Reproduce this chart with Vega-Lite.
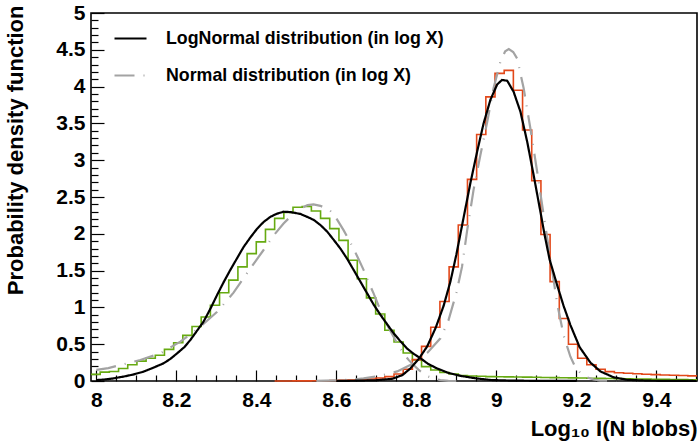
{
  "$schema": "https://vega.github.io/schema/vega-lite/v6.json",
  "width": 606,
  "height": 368,
  "autosize": {"type": "none"},
  "padding": {"left": 91, "top": 13, "right": 1, "bottom": 63},
  "background": "white",
  "datasets": {
    "hist": [
      {"sample": "A", "x": 7.9867, "y": 0.09}, {"sample": "A", "x": 8.0097, "y": 0.12}, {"sample": "A", "x": 8.0326, "y": 0.13}, {"sample": "A", "x": 8.0556, "y": 0.17},
      {"sample": "A", "x": 8.0785, "y": 0.22}, {"sample": "A", "x": 8.1015, "y": 0.27}, {"sample": "A", "x": 8.1244, "y": 0.31}, {"sample": "A", "x": 8.1474, "y": 0.35},
      {"sample": "A", "x": 8.1703, "y": 0.43}, {"sample": "A", "x": 8.1933, "y": 0.52}, {"sample": "A", "x": 8.2162, "y": 0.62}, {"sample": "A", "x": 8.2392, "y": 0.74},
      {"sample": "A", "x": 8.2621, "y": 0.87}, {"sample": "A", "x": 8.2851, "y": 1.03}, {"sample": "A", "x": 8.308, "y": 1.2}, {"sample": "A", "x": 8.331, "y": 1.37},
      {"sample": "A", "x": 8.3539, "y": 1.55}, {"sample": "A", "x": 8.3769, "y": 1.73}, {"sample": "A", "x": 8.3998, "y": 1.89}, {"sample": "A", "x": 8.4228, "y": 2.06},
      {"sample": "A", "x": 8.4457, "y": 2.21}, {"sample": "A", "x": 8.4687, "y": 2.29}, {"sample": "A", "x": 8.4916, "y": 2.36}, {"sample": "A", "x": 8.5146, "y": 2.37},
      {"sample": "A", "x": 8.5375, "y": 2.31}, {"sample": "A", "x": 8.5605, "y": 2.21}, {"sample": "A", "x": 8.5834, "y": 2.07}, {"sample": "A", "x": 8.6064, "y": 1.91},
      {"sample": "A", "x": 8.6293, "y": 1.64}, {"sample": "A", "x": 8.6523, "y": 1.39}, {"sample": "A", "x": 8.6752, "y": 1.13}, {"sample": "A", "x": 8.6982, "y": 0.91},
      {"sample": "A", "x": 8.7211, "y": 0.69}, {"sample": "A", "x": 8.7441, "y": 0.53}, {"sample": "A", "x": 8.767, "y": 0.38}, {"sample": "A", "x": 8.79, "y": 0.285},
      {"sample": "A", "x": 8.8129, "y": 0.195}, {"sample": "A", "x": 8.8359, "y": 0.15}, {"sample": "A", "x": 8.8588, "y": 0.115}, {"sample": "A", "x": 8.8818, "y": 0.095},
      {"sample": "A", "x": 8.9047, "y": 0.075}, {"sample": "A", "x": 8.9277, "y": 0.068}, {"sample": "A", "x": 8.9506, "y": 0.064}, {"sample": "A", "x": 8.9736, "y": 0.06},
      {"sample": "A", "x": 8.9965, "y": 0.058}, {"sample": "A", "x": 9.0195, "y": 0.056}, {"sample": "A", "x": 9.0424, "y": 0.054}, {"sample": "A", "x": 9.0654, "y": 0.052},
      {"sample": "A", "x": 9.0883, "y": 0.05}, {"sample": "A", "x": 9.1113, "y": 0.048}, {"sample": "A", "x": 9.1342, "y": 0.046}, {"sample": "A", "x": 9.1572, "y": 0.044},
      {"sample": "A", "x": 9.1801, "y": 0.042}, {"sample": "A", "x": 9.2031, "y": 0.04}, {"sample": "A", "x": 9.226, "y": 0.038}, {"sample": "A", "x": 9.249, "y": 0.036},
      {"sample": "A", "x": 9.2719, "y": 0.034}, {"sample": "A", "x": 9.2949, "y": 0.032}, {"sample": "A", "x": 9.3178, "y": 0.03}, {"sample": "A", "x": 9.3408, "y": 0.028},
      {"sample": "A", "x": 9.3637, "y": 0.026}, {"sample": "A", "x": 9.3867, "y": 0.024}, {"sample": "A", "x": 9.4096, "y": 0.022}, {"sample": "A", "x": 9.4326, "y": 0.02},
      {"sample": "A", "x": 9.4555, "y": 0.019}, {"sample": "A", "x": 9.4785, "y": 0.018}, {"sample": "A", "x": 9.5014, "y": 0.018},
      {"sample": "B", "x": 8.4457, "y": 0.001}, {"sample": "B", "x": 8.4687, "y": 0.001}, {"sample": "B", "x": 8.4916, "y": 0.002}, {"sample": "B", "x": 8.5146, "y": 0.002},
      {"sample": "B", "x": 8.5375, "y": 0.003}, {"sample": "B", "x": 8.5605, "y": 0.004}, {"sample": "B", "x": 8.5834, "y": 0.006}, {"sample": "B", "x": 8.6064, "y": 0.008},
      {"sample": "B", "x": 8.6293, "y": 0.012}, {"sample": "B", "x": 8.6523, "y": 0.018}, {"sample": "B", "x": 8.6752, "y": 0.027}, {"sample": "B", "x": 8.6982, "y": 0.04},
      {"sample": "B", "x": 8.7211, "y": 0.06}, {"sample": "B", "x": 8.7441, "y": 0.095}, {"sample": "B", "x": 8.767, "y": 0.16}, {"sample": "B", "x": 8.79, "y": 0.29},
      {"sample": "B", "x": 8.8129, "y": 0.47}, {"sample": "B", "x": 8.8359, "y": 0.73}, {"sample": "B", "x": 8.8588, "y": 1.08}, {"sample": "B", "x": 8.8818, "y": 1.55},
      {"sample": "B", "x": 8.9047, "y": 2.12}, {"sample": "B", "x": 8.9277, "y": 2.74}, {"sample": "B", "x": 8.9506, "y": 3.35}, {"sample": "B", "x": 8.9736, "y": 3.86},
      {"sample": "B", "x": 8.9965, "y": 4.18}, {"sample": "B", "x": 9.0195, "y": 4.22}, {"sample": "B", "x": 9.0424, "y": 3.95}, {"sample": "B", "x": 9.0654, "y": 3.41},
      {"sample": "B", "x": 9.0883, "y": 2.72}, {"sample": "B", "x": 9.1113, "y": 1.99}, {"sample": "B", "x": 9.1342, "y": 1.35}, {"sample": "B", "x": 9.1572, "y": 0.85},
      {"sample": "B", "x": 9.1801, "y": 0.5}, {"sample": "B", "x": 9.2031, "y": 0.31}, {"sample": "B", "x": 9.226, "y": 0.22}, {"sample": "B", "x": 9.249, "y": 0.16},
      {"sample": "B", "x": 9.2719, "y": 0.127}, {"sample": "B", "x": 9.2949, "y": 0.113}, {"sample": "B", "x": 9.3178, "y": 0.105}, {"sample": "B", "x": 9.3408, "y": 0.098},
      {"sample": "B", "x": 9.3637, "y": 0.092}, {"sample": "B", "x": 9.3867, "y": 0.087}, {"sample": "B", "x": 9.4096, "y": 0.082}, {"sample": "B", "x": 9.4326, "y": 0.078},
      {"sample": "B", "x": 9.4555, "y": 0.074}, {"sample": "B", "x": 9.4785, "y": 0.07}, {"sample": "B", "x": 9.5014, "y": 0.07}
    ],
    "curves": [
      {"fn": "Normal distribution (in log X)", "peak": "a", "x": 8.0, "y": 0.15},
      {"fn": "Normal distribution (in log X)", "peak": "a", "x": 8.03, "y": 0.175},
      {"fn": "Normal distribution (in log X)", "peak": "a", "x": 8.06, "y": 0.217},
      {"fn": "Normal distribution (in log X)", "peak": "a", "x": 8.11, "y": 0.285},
      {"fn": "Normal distribution (in log X)", "peak": "a", "x": 8.16, "y": 0.376},
      {"fn": "Normal distribution (in log X)", "peak": "a", "x": 8.21, "y": 0.534},
      {"fn": "Normal distribution (in log X)", "peak": "a", "x": 8.26, "y": 0.738},
      {"fn": "Normal distribution (in log X)", "peak": "a", "x": 8.302, "y": 0.94},
      {"fn": "Normal distribution (in log X)", "peak": "a", "x": 8.343, "y": 1.2},
      {"fn": "Normal distribution (in log X)", "peak": "a", "x": 8.385, "y": 1.53},
      {"fn": "Normal distribution (in log X)", "peak": "a", "x": 8.418, "y": 1.78},
      {"fn": "Normal distribution (in log X)", "peak": "a", "x": 8.445, "y": 1.99},
      {"fn": "Normal distribution (in log X)", "peak": "a", "x": 8.468, "y": 2.14},
      {"fn": "Normal distribution (in log X)", "peak": "a", "x": 8.49, "y": 2.26},
      {"fn": "Normal distribution (in log X)", "peak": "a", "x": 8.51, "y": 2.34},
      {"fn": "Normal distribution (in log X)", "peak": "a", "x": 8.528, "y": 2.39},
      {"fn": "Normal distribution (in log X)", "peak": "a", "x": 8.543, "y": 2.4},
      {"fn": "Normal distribution (in log X)", "peak": "a", "x": 8.56, "y": 2.38},
      {"fn": "Normal distribution (in log X)", "peak": "a", "x": 8.573, "y": 2.35},
      {"fn": "Normal distribution (in log X)", "peak": "a", "x": 8.585, "y": 2.31},
      {"fn": "Normal distribution (in log X)", "peak": "a", "x": 8.6, "y": 2.21},
      {"fn": "Normal distribution (in log X)", "peak": "a", "x": 8.618, "y": 2.05},
      {"fn": "Normal distribution (in log X)", "peak": "a", "x": 8.63, "y": 1.93},
      {"fn": "Normal distribution (in log X)", "peak": "a", "x": 8.643, "y": 1.8},
      {"fn": "Normal distribution (in log X)", "peak": "a", "x": 8.655, "y": 1.66},
      {"fn": "Normal distribution (in log X)", "peak": "a", "x": 8.668, "y": 1.51},
      {"fn": "Normal distribution (in log X)", "peak": "a", "x": 8.68, "y": 1.35},
      {"fn": "Normal distribution (in log X)", "peak": "a", "x": 8.693, "y": 1.19},
      {"fn": "Normal distribution (in log X)", "peak": "a", "x": 8.705, "y": 1.03},
      {"fn": "Normal distribution (in log X)", "peak": "a", "x": 8.718, "y": 0.87},
      {"fn": "Normal distribution (in log X)", "peak": "a", "x": 8.73, "y": 0.73},
      {"fn": "Normal distribution (in log X)", "peak": "a", "x": 8.743, "y": 0.6},
      {"fn": "Normal distribution (in log X)", "peak": "a", "x": 8.755, "y": 0.48},
      {"fn": "Normal distribution (in log X)", "peak": "a", "x": 8.768, "y": 0.376},
      {"fn": "Normal distribution (in log X)", "peak": "a", "x": 8.78, "y": 0.29},
      {"fn": "Normal distribution (in log X)", "peak": "a", "x": 8.793, "y": 0.217},
      {"fn": "Normal distribution (in log X)", "peak": "a", "x": 8.805, "y": 0.155},
      {"fn": "Normal distribution (in log X)", "peak": "a", "x": 8.818, "y": 0.1},
      {"fn": "Normal distribution (in log X)", "peak": "a", "x": 8.83, "y": 0.06},
      {"fn": "Normal distribution (in log X)", "peak": "a", "x": 8.843, "y": 0.035},
      {"fn": "Normal distribution (in log X)", "peak": "a", "x": 8.86, "y": 0.012},
      {"fn": "Normal distribution (in log X)", "peak": "a", "x": 8.88, "y": 0.002},
      {"fn": "Normal distribution (in log X)", "peak": "a", "x": 8.9, "y": 0},
      {"fn": "Normal distribution (in log X)", "peak": "b", "x": 8.55, "y": 0.002},
      {"fn": "Normal distribution (in log X)", "peak": "b", "x": 8.6, "y": 0.008},
      {"fn": "Normal distribution (in log X)", "peak": "b", "x": 8.64, "y": 0.02},
      {"fn": "Normal distribution (in log X)", "peak": "b", "x": 8.668, "y": 0.035},
      {"fn": "Normal distribution (in log X)", "peak": "b", "x": 8.71, "y": 0.07},
      {"fn": "Normal distribution (in log X)", "peak": "b", "x": 8.752, "y": 0.13},
      {"fn": "Normal distribution (in log X)", "peak": "b", "x": 8.793, "y": 0.24},
      {"fn": "Normal distribution (in log X)", "peak": "b", "x": 8.827, "y": 0.38},
      {"fn": "Normal distribution (in log X)", "peak": "b", "x": 8.86, "y": 0.58},
      {"fn": "Normal distribution (in log X)", "peak": "b", "x": 8.88, "y": 0.82},
      {"fn": "Normal distribution (in log X)", "peak": "b", "x": 8.9, "y": 1.2},
      {"fn": "Normal distribution (in log X)", "peak": "b", "x": 8.914, "y": 1.55},
      {"fn": "Normal distribution (in log X)", "peak": "b", "x": 8.927, "y": 2.05},
      {"fn": "Normal distribution (in log X)", "peak": "b", "x": 8.943, "y": 2.6},
      {"fn": "Normal distribution (in log X)", "peak": "b", "x": 8.96, "y": 3.07},
      {"fn": "Normal distribution (in log X)", "peak": "b", "x": 8.977, "y": 3.52},
      {"fn": "Normal distribution (in log X)", "peak": "b", "x": 8.993, "y": 3.98},
      {"fn": "Normal distribution (in log X)", "peak": "b", "x": 9.01, "y": 4.34},
      {"fn": "Normal distribution (in log X)", "peak": "b", "x": 9.022, "y": 4.48},
      {"fn": "Normal distribution (in log X)", "peak": "b", "x": 9.031, "y": 4.51},
      {"fn": "Normal distribution (in log X)", "peak": "b", "x": 9.042, "y": 4.47},
      {"fn": "Normal distribution (in log X)", "peak": "b", "x": 9.052, "y": 4.38},
      {"fn": "Normal distribution (in log X)", "peak": "b", "x": 9.068, "y": 3.98},
      {"fn": "Normal distribution (in log X)", "peak": "b", "x": 9.085, "y": 3.43},
      {"fn": "Normal distribution (in log X)", "peak": "b", "x": 9.102, "y": 2.84},
      {"fn": "Normal distribution (in log X)", "peak": "b", "x": 9.118, "y": 2.26},
      {"fn": "Normal distribution (in log X)", "peak": "b", "x": 9.135, "y": 1.66},
      {"fn": "Normal distribution (in log X)", "peak": "b", "x": 9.152, "y": 1.05},
      {"fn": "Normal distribution (in log X)", "peak": "b", "x": 9.168, "y": 0.62},
      {"fn": "Normal distribution (in log X)", "peak": "b", "x": 9.185, "y": 0.33},
      {"fn": "Normal distribution (in log X)", "peak": "b", "x": 9.197, "y": 0.19},
      {"fn": "Normal distribution (in log X)", "peak": "b", "x": 9.21, "y": 0.11},
      {"fn": "Normal distribution (in log X)", "peak": "b", "x": 9.227, "y": 0.05},
      {"fn": "Normal distribution (in log X)", "peak": "b", "x": 9.243, "y": 0.02},
      {"fn": "Normal distribution (in log X)", "peak": "b", "x": 9.26, "y": 0.006},
      {"fn": "Normal distribution (in log X)", "peak": "b", "x": 9.3, "y": 0.001},
      {"fn": "LogNormal distribution (in log X)", "peak": "a", "x": 8.0, "y": 0.012},
      {"fn": "LogNormal distribution (in log X)", "peak": "a", "x": 8.02, "y": 0.02},
      {"fn": "LogNormal distribution (in log X)", "peak": "a", "x": 8.04, "y": 0.033},
      {"fn": "LogNormal distribution (in log X)", "peak": "a", "x": 8.068, "y": 0.06},
      {"fn": "LogNormal distribution (in log X)", "peak": "a", "x": 8.09, "y": 0.085},
      {"fn": "LogNormal distribution (in log X)", "peak": "a", "x": 8.118, "y": 0.127},
      {"fn": "LogNormal distribution (in log X)", "peak": "a", "x": 8.14, "y": 0.175},
      {"fn": "LogNormal distribution (in log X)", "peak": "a", "x": 8.168, "y": 0.24},
      {"fn": "LogNormal distribution (in log X)", "peak": "a", "x": 8.185, "y": 0.3},
      {"fn": "LogNormal distribution (in log X)", "peak": "a", "x": 8.202, "y": 0.376},
      {"fn": "LogNormal distribution (in log X)", "peak": "a", "x": 8.22, "y": 0.46},
      {"fn": "LogNormal distribution (in log X)", "peak": "a", "x": 8.235, "y": 0.557},
      {"fn": "LogNormal distribution (in log X)", "peak": "a", "x": 8.25, "y": 0.67},
      {"fn": "LogNormal distribution (in log X)", "peak": "a", "x": 8.268, "y": 0.806},
      {"fn": "LogNormal distribution (in log X)", "peak": "a", "x": 8.285, "y": 0.98},
      {"fn": "LogNormal distribution (in log X)", "peak": "a", "x": 8.302, "y": 1.17},
      {"fn": "LogNormal distribution (in log X)", "peak": "a", "x": 8.318, "y": 1.34},
      {"fn": "LogNormal distribution (in log X)", "peak": "a", "x": 8.335, "y": 1.51},
      {"fn": "LogNormal distribution (in log X)", "peak": "a", "x": 8.352, "y": 1.67},
      {"fn": "LogNormal distribution (in log X)", "peak": "a", "x": 8.368, "y": 1.82},
      {"fn": "LogNormal distribution (in log X)", "peak": "a", "x": 8.385, "y": 1.95},
      {"fn": "LogNormal distribution (in log X)", "peak": "a", "x": 8.402, "y": 2.07},
      {"fn": "LogNormal distribution (in log X)", "peak": "a", "x": 8.418, "y": 2.16},
      {"fn": "LogNormal distribution (in log X)", "peak": "a", "x": 8.435, "y": 2.23},
      {"fn": "LogNormal distribution (in log X)", "peak": "a", "x": 8.45, "y": 2.27},
      {"fn": "LogNormal distribution (in log X)", "peak": "a", "x": 8.468, "y": 2.3},
      {"fn": "LogNormal distribution (in log X)", "peak": "a", "x": 8.485, "y": 2.295},
      {"fn": "LogNormal distribution (in log X)", "peak": "a", "x": 8.51, "y": 2.27},
      {"fn": "LogNormal distribution (in log X)", "peak": "a", "x": 8.527, "y": 2.23},
      {"fn": "LogNormal distribution (in log X)", "peak": "a", "x": 8.543, "y": 2.19},
      {"fn": "LogNormal distribution (in log X)", "peak": "a", "x": 8.56, "y": 2.12},
      {"fn": "LogNormal distribution (in log X)", "peak": "a", "x": 8.577, "y": 2.03},
      {"fn": "LogNormal distribution (in log X)", "peak": "a", "x": 8.593, "y": 1.92},
      {"fn": "LogNormal distribution (in log X)", "peak": "a", "x": 8.61, "y": 1.8},
      {"fn": "LogNormal distribution (in log X)", "peak": "a", "x": 8.627, "y": 1.66},
      {"fn": "LogNormal distribution (in log X)", "peak": "a", "x": 8.643, "y": 1.51},
      {"fn": "LogNormal distribution (in log X)", "peak": "a", "x": 8.66, "y": 1.35},
      {"fn": "LogNormal distribution (in log X)", "peak": "a", "x": 8.677, "y": 1.19},
      {"fn": "LogNormal distribution (in log X)", "peak": "a", "x": 8.693, "y": 1.04},
      {"fn": "LogNormal distribution (in log X)", "peak": "a", "x": 8.71, "y": 0.9},
      {"fn": "LogNormal distribution (in log X)", "peak": "a", "x": 8.727, "y": 0.77},
      {"fn": "LogNormal distribution (in log X)", "peak": "a", "x": 8.743, "y": 0.65},
      {"fn": "LogNormal distribution (in log X)", "peak": "a", "x": 8.76, "y": 0.54},
      {"fn": "LogNormal distribution (in log X)", "peak": "a", "x": 8.777, "y": 0.44},
      {"fn": "LogNormal distribution (in log X)", "peak": "a", "x": 8.793, "y": 0.37},
      {"fn": "LogNormal distribution (in log X)", "peak": "a", "x": 8.81, "y": 0.31},
      {"fn": "LogNormal distribution (in log X)", "peak": "a", "x": 8.83, "y": 0.23},
      {"fn": "LogNormal distribution (in log X)", "peak": "a", "x": 8.852, "y": 0.17},
      {"fn": "LogNormal distribution (in log X)", "peak": "a", "x": 8.88, "y": 0.11},
      {"fn": "LogNormal distribution (in log X)", "peak": "a", "x": 8.91, "y": 0.07},
      {"fn": "LogNormal distribution (in log X)", "peak": "a", "x": 8.95, "y": 0.035},
      {"fn": "LogNormal distribution (in log X)", "peak": "a", "x": 8.985, "y": 0.014},
      {"fn": "LogNormal distribution (in log X)", "peak": "a", "x": 9.03, "y": 0.006},
      {"fn": "LogNormal distribution (in log X)", "peak": "a", "x": 9.1, "y": 0.002},
      {"fn": "LogNormal distribution (in log X)", "peak": "a", "x": 9.2, "y": 0.0005},
      {"fn": "LogNormal distribution (in log X)", "peak": "b", "x": 8.6, "y": 0.001},
      {"fn": "LogNormal distribution (in log X)", "peak": "b", "x": 8.65, "y": 0.004},
      {"fn": "LogNormal distribution (in log X)", "peak": "b", "x": 8.7, "y": 0.01},
      {"fn": "LogNormal distribution (in log X)", "peak": "b", "x": 8.74, "y": 0.03},
      {"fn": "LogNormal distribution (in log X)", "peak": "b", "x": 8.765, "y": 0.08},
      {"fn": "LogNormal distribution (in log X)", "peak": "b", "x": 8.785, "y": 0.17},
      {"fn": "LogNormal distribution (in log X)", "peak": "b", "x": 8.806, "y": 0.3},
      {"fn": "LogNormal distribution (in log X)", "peak": "b", "x": 8.827, "y": 0.47},
      {"fn": "LogNormal distribution (in log X)", "peak": "b", "x": 8.848, "y": 0.72},
      {"fn": "LogNormal distribution (in log X)", "peak": "b", "x": 8.868, "y": 1.02},
      {"fn": "LogNormal distribution (in log X)", "peak": "b", "x": 8.885, "y": 1.35},
      {"fn": "LogNormal distribution (in log X)", "peak": "b", "x": 8.9, "y": 1.72},
      {"fn": "LogNormal distribution (in log X)", "peak": "b", "x": 8.918, "y": 2.22},
      {"fn": "LogNormal distribution (in log X)", "peak": "b", "x": 8.935, "y": 2.69},
      {"fn": "LogNormal distribution (in log X)", "peak": "b", "x": 8.952, "y": 3.12},
      {"fn": "LogNormal distribution (in log X)", "peak": "b", "x": 8.968, "y": 3.5},
      {"fn": "LogNormal distribution (in log X)", "peak": "b", "x": 8.985, "y": 3.82},
      {"fn": "LogNormal distribution (in log X)", "peak": "b", "x": 9.002, "y": 4.03},
      {"fn": "LogNormal distribution (in log X)", "peak": "b", "x": 9.014, "y": 4.09},
      {"fn": "LogNormal distribution (in log X)", "peak": "b", "x": 9.027, "y": 4.08},
      {"fn": "LogNormal distribution (in log X)", "peak": "b", "x": 9.043, "y": 3.93},
      {"fn": "LogNormal distribution (in log X)", "peak": "b", "x": 9.06, "y": 3.66},
      {"fn": "LogNormal distribution (in log X)", "peak": "b", "x": 9.077, "y": 3.25},
      {"fn": "LogNormal distribution (in log X)", "peak": "b", "x": 9.093, "y": 2.8},
      {"fn": "LogNormal distribution (in log X)", "peak": "b", "x": 9.11, "y": 2.3},
      {"fn": "LogNormal distribution (in log X)", "peak": "b", "x": 9.12, "y": 2.0},
      {"fn": "LogNormal distribution (in log X)", "peak": "b", "x": 9.133, "y": 1.65},
      {"fn": "LogNormal distribution (in log X)", "peak": "b", "x": 9.152, "y": 1.3},
      {"fn": "LogNormal distribution (in log X)", "peak": "b", "x": 9.168, "y": 1.02},
      {"fn": "LogNormal distribution (in log X)", "peak": "b", "x": 9.185, "y": 0.76},
      {"fn": "LogNormal distribution (in log X)", "peak": "b", "x": 9.208, "y": 0.46},
      {"fn": "LogNormal distribution (in log X)", "peak": "b", "x": 9.235, "y": 0.25},
      {"fn": "LogNormal distribution (in log X)", "peak": "b", "x": 9.26, "y": 0.13},
      {"fn": "LogNormal distribution (in log X)", "peak": "b", "x": 9.293, "y": 0.05},
      {"fn": "LogNormal distribution (in log X)", "peak": "b", "x": 9.327, "y": 0.016},
      {"fn": "LogNormal distribution (in log X)", "peak": "b", "x": 9.38, "y": 0.004},
      {"fn": "LogNormal distribution (in log X)", "peak": "b", "x": 9.45, "y": 0.001},
      {"fn": "LogNormal distribution (in log X)", "peak": "b", "x": 9.5, "y": 0.0002}
    ]
  },
  "layer": [
    {
      "data": {"name": "hist"},
      "transform": [{"filter": "datum.sample === 'A'"}],
      "mark": {"type": "line", "interpolate": "step-after", "color": "#66aa11", "strokeWidth": 1.6},
      "encoding": {
        "x": {"field": "x", "type": "quantitative",
          "scale": {"domain": [7.9867, 9.5014], "nice": false, "zero": false},
          "axis": {"orient": "bottom", "values": [8, 8.2, 8.4, 8.6, 8.8, 9, 9.2, 9.4], "format": "~g", "ticks": false, "domain": false,
            "labelPadding": 8, "labelFlush": false,
            "title": "Log₁₀ I(N blobs)", "titleAnchor": "end", "titleAlign": "right", "titleX": 606, "titleY": 54, "titleBaseline": "alphabetic"}},
        "y": {"field": "y", "type": "quantitative",
          "scale": {"domain": [0, 5], "nice": false, "zero": true},
          "axis": {"orient": "left", "values": [0, 0.5, 1, 1.5, 2, 2.5, 3, 3.5, 4, 4.5, 5], "format": "~g", "ticks": false, "domain": false,
            "labelPadding": 6, "labelFlush": false,
            "title": "Probability density function", "titleAnchor": "end", "titleAlign": "right", "titleAngle": 270, "titleX": -76, "titleY": -8, "titleBaseline": "middle"}}
      }
    },
    {
      "data": {"name": "hist"},
      "transform": [{"filter": "datum.sample === 'B'"}],
      "mark": {"type": "line", "interpolate": "step-after", "color": "#e2481a", "strokeWidth": 1.6},
      "encoding": {
        "x": {"field": "x", "type": "quantitative",
          "axis": {"orient": "bottom", "values": [8, 8.2, 8.4, 8.6, 8.8, 9, 9.2, 9.4], "labels": false, "domain": false, "tickSize": -11, "tickWidth": 1.2, "title": null}},
        "y": {"field": "y", "type": "quantitative",
          "axis": {"orient": "left", "values": [0, 0.5, 1, 1.5, 2, 2.5, 3, 3.5, 4, 4.5, 5], "labels": false, "domain": false, "tickSize": -13, "tickWidth": 1.2, "title": null}}
      }
    },
    {
      "data": {"name": "curves"},
      "mark": {"type": "line", "strokeWidth": 2.2, "strokeCap": "butt"},
      "encoding": {
        "x": {"field": "x", "type": "quantitative",
          "axis": {"orient": "bottom", "values": [8.05, 8.1, 8.15, 8.25, 8.3, 8.35, 8.45, 8.5, 8.55, 8.65, 8.7, 8.75, 8.85, 8.9, 8.95, 9.05, 9.1, 9.15, 9.25, 9.3, 9.35, 9.45, 9.5], "labels": false, "domain": false, "tickSize": -6, "tickWidth": 1.2, "title": null}},
        "y": {"field": "y", "type": "quantitative",
          "axis": {"orient": "left", "values": [0.1, 0.2, 0.3, 0.4, 0.6, 0.7, 0.8, 0.9, 1.1, 1.2, 1.3, 1.4, 1.6, 1.7, 1.8, 1.9, 2.1, 2.2, 2.3, 2.4, 2.6, 2.7, 2.8, 2.9, 3.1, 3.2, 3.3, 3.4, 3.6, 3.7, 3.8, 3.9, 4.1, 4.2, 4.3, 4.4, 4.6, 4.7, 4.8, 4.9], "labels": false, "domain": false, "tickSize": -7, "tickWidth": 1.2, "title": null}},
        "detail": {"field": "peak", "type": "nominal"},
        "color": {"field": "fn", "type": "nominal",
          "scale": {"domain": ["LogNormal distribution (in log X)", "Normal distribution (in log X)"], "range": ["#000000", "#a3a3a3"]},
          "legend": {"title": null, "orient": "none", "legendX": 22, "legendY": 8}},
        "strokeDash": {"field": "fn", "type": "nominal",
          "scale": {"domain": ["LogNormal distribution (in log X)", "Normal distribution (in log X)"], "range": [[1, 0], [20, 9, 1, 9]]},
          "legend": {"title": null, "orient": "none", "legendX": 22, "legendY": 8}}
      }
    }
  ],
  "resolve": {"axis": {"x": "independent", "y": "independent"}},
  "config": {
    "font": "Liberation Sans",
    "view": {"stroke": "#000000", "strokeWidth": 1.6},
    "axis": {
      "grid": false,
      "labelFont": "Liberation Sans", "labelFontWeight": "bold", "labelFontSize": 21, "labelColor": "#000000",
      "titleFont": "Liberation Sans", "titleFontWeight": "bold", "titleFontSize": 22, "titleColor": "#000000",
      "tickColor": "#000000", "domainColor": "#000000"
    },
    "legend": {
      "labelFont": "Liberation Sans", "labelFontWeight": "bold", "labelFontSize": 17.8, "labelColor": "#000000",
      "symbolType": "stroke", "symbolSize": 1024, "symbolStrokeWidth": 2.2,
      "labelOffset": 18, "rowPadding": 10, "padding": 0, "labelLimit": 400
    }
  }
}
